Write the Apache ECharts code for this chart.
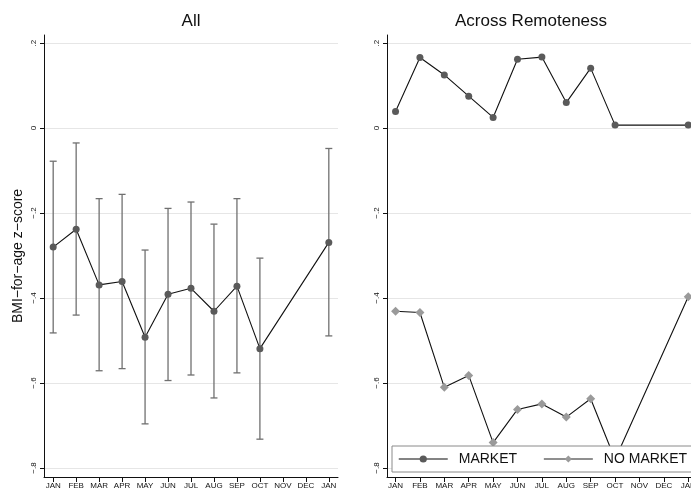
<!DOCTYPE html>
<html>
<head>
<meta charset="utf-8">
<script src="https://cdn.jsdelivr.net/npm/echarts@6/dist/echarts.min.js"></script>
<style>
  html, body { margin: 0; padding: 0; background: #fff; }
  #chart { width: 691px; height: 493px; }
</style>
</head>
<body>
<div id="chart"></div>
<script>
// Month axis (13 slots: Jan .. Jan of the following year)
const months = ['JAN', 'FEB', 'MAR', 'APR', 'MAY', 'JUN', 'JUL', 'AUG', 'SEP', 'OCT', 'NOV', 'DEC', 'JAN'];
// Slots that have observations (no data for NOV and DEC)
const monthIdx = [0, 1, 2, 3, 4, 5, 6, 7, 8, 9, 12];

// Pooled sample: mean BMI-for-age z-score with 95% interval
const allMean = [-0.280, -0.238, -0.369, -0.361, -0.492, -0.391, -0.377, -0.431, -0.372, -0.519, -0.269];
const allLow  = [-0.482, -0.440, -0.571, -0.566, -0.696, -0.594, -0.581, -0.635, -0.576, -0.732, -0.489];
const allHigh = [-0.078, -0.035, -0.166, -0.156, -0.287, -0.189, -0.174, -0.226, -0.166, -0.306, -0.048];

// By remoteness
const marketMean   = [0.039, 0.166, 0.125, 0.075, 0.025, 0.162, 0.167, 0.060, 0.141, 0.007, 0.007];
const noMarketMean = [-0.431, -0.434, -0.610, -0.582, -0.740, -0.662, -0.649, -0.680, -0.637, -0.780, -0.397];

const yTicks = [-0.8, -0.6, -0.4, -0.2, 0, 0.2];
const xTicks = months.map((m, i) => i);

const FONT = '"Liberation Sans", Arial, Helvetica, sans-serif';

function fmtY(v) {
  if (Math.abs(v) < 1e-9) return '0';
  const d = String(Math.round(Math.abs(v) * 10));
  return (v < 0 ? '\u2212' : '') + '.' + d;
}

function xAxisCfg(gridIndex, min, max) {
  return {
    type: 'value', gridIndex, min, max,
    axisLine: { show: true, onZero: false, lineStyle: { color: '#111', width: 1 } },
    axisTick: { show: true, customValues: xTicks, length: 5, lineStyle: { color: '#111', width: 1 } },
    axisLabel: {
      show: true, customValues: xTicks, fontSize: 8, margin: 5, color: '#111', fontFamily: FONT,
      formatter: v => months[Math.round(v)]
    },
    splitLine: { show: false }
  };
}

function yAxisCfg(gridIndex, name) {
  return {
    type: 'value', gridIndex, min: -0.821, max: 0.219,
    name: name || '', nameLocation: 'middle', nameRotate: 90, nameGap: 19,
    nameTextStyle: { fontSize: 14, color: '#111', fontFamily: FONT },
    axisLine: { show: true, onZero: false, lineStyle: { color: '#111', width: 1 } },
    axisTick: { show: true, customValues: yTicks, length: 4, lineStyle: { color: '#111', width: 1 } },
    axisLabel: {
      show: true, customValues: yTicks, rotate: 90, fontSize: 8, margin: 6, color: '#111', fontFamily: FONT,
      formatter: fmtY
    },
    splitLine: { show: true, lineStyle: { color: '#e6e6e6', width: 1 } }
  };
}

// Error bars with caps
function renderCI(params, api) {
  const x = api.value(0);
  const lo = api.coord([x, api.value(1)]);
  const hi = api.coord([x, api.value(2)]);
  const w = 3.5;
  const style = { stroke: '#707070', lineWidth: 1.3 };
  return {
    type: 'group',
    children: [
      { type: 'line', shape: { x1: lo[0], y1: lo[1], x2: hi[0], y2: hi[1] }, style },
      { type: 'line', shape: { x1: lo[0] - w, y1: lo[1], x2: lo[0] + w, y2: lo[1] }, style },
      { type: 'line', shape: { x1: hi[0] - w, y1: hi[1], x2: hi[0] + w, y2: hi[1] }, style }
    ]
  };
}

const chart = echarts.init(document.getElementById('chart'), null, { renderer: 'canvas' });

chart.setOption({
  animation: false,
  backgroundColor: '#fff',
  textStyle: { fontFamily: FONT },
  grid: [
    { left: 44, top: 35, width: 294, height: 442, outerBoundsMode: 'none' },
    // the right panel runs a little past the page edge
    { left: 387, top: 35, width: 311, height: 442, outerBoundsMode: 'none' }
  ],
  xAxis: [xAxisCfg(0, -0.4, 12.4), xAxisCfg(1, -0.35, 12.4)],
  yAxis: [yAxisCfg(0, 'BMI\u2212for\u2212age z\u2212score'), yAxisCfg(1)],
  graphic: [
    { type: 'text', x: 191, y: 21, style: { text: 'All', font: '17px ' + FONT, fill: '#111', textAlign: 'center', textVerticalAlign: 'middle' } },
    { type: 'text', x: 531, y: 21, style: { text: 'Across Remoteness', font: '17px ' + FONT, fill: '#111', textAlign: 'center', textVerticalAlign: 'middle' } }
  ],
  legend: {
    left: 392, top: 446,
    width: 310,
    orient: 'horizontal',
    padding: [5, 6, 5, 6],
    itemGap: 26,
    itemWidth: 49,
    itemHeight: 9,
    borderColor: '#8a8a8a', borderWidth: 1, borderRadius: 0,
    backgroundColor: '#fff',
    z: 10,
    textStyle: { fontSize: 14, lineHeight: 16, color: '#111', fontFamily: FONT, padding: [0, 0, 0, 6] },
    data: [
      { name: 'MARKET', lineStyle: { color: '#5a5a5a', width: 1.5 } },
      { name: 'NO MARKET', lineStyle: { color: '#6a6a6a', width: 1.5 } }
    ]
  },
  series: [
    {
      type: 'custom', name: 'CI', xAxisIndex: 0, yAxisIndex: 0,
      renderItem: renderCI,
      data: monthIdx.map((m, i) => [m, allLow[i], allHigh[i]]),
      z: 2, silent: true
    },
    {
      type: 'line', name: 'All', xAxisIndex: 0, yAxisIndex: 0,
      data: monthIdx.map((m, i) => [m, allMean[i]]),
      symbol: 'circle', symbolSize: 7,
      itemStyle: { color: '#5a5a5a' },
      lineStyle: { color: '#111', width: 1.1 },
      z: 3, silent: true
    },
    {
      type: 'line', name: 'MARKET', xAxisIndex: 1, yAxisIndex: 1,
      data: monthIdx.map((m, i) => [m, marketMean[i]]),
      symbol: 'circle', symbolSize: 7,
      itemStyle: { color: '#5a5a5a' },
      lineStyle: { color: '#111', width: 1.1 },
      z: 3, silent: true
    },
    {
      type: 'line', name: 'NO MARKET', xAxisIndex: 1, yAxisIndex: 1,
      data: monthIdx.map((m, i) => [m, noMarketMean[i]]),
      symbol: 'diamond', symbolSize: 9,
      itemStyle: { color: '#9a9a9a' },
      lineStyle: { color: '#111', width: 1.1 },
      z: 3, silent: true
    }
  ]
});
</script>
</body>
</html>
